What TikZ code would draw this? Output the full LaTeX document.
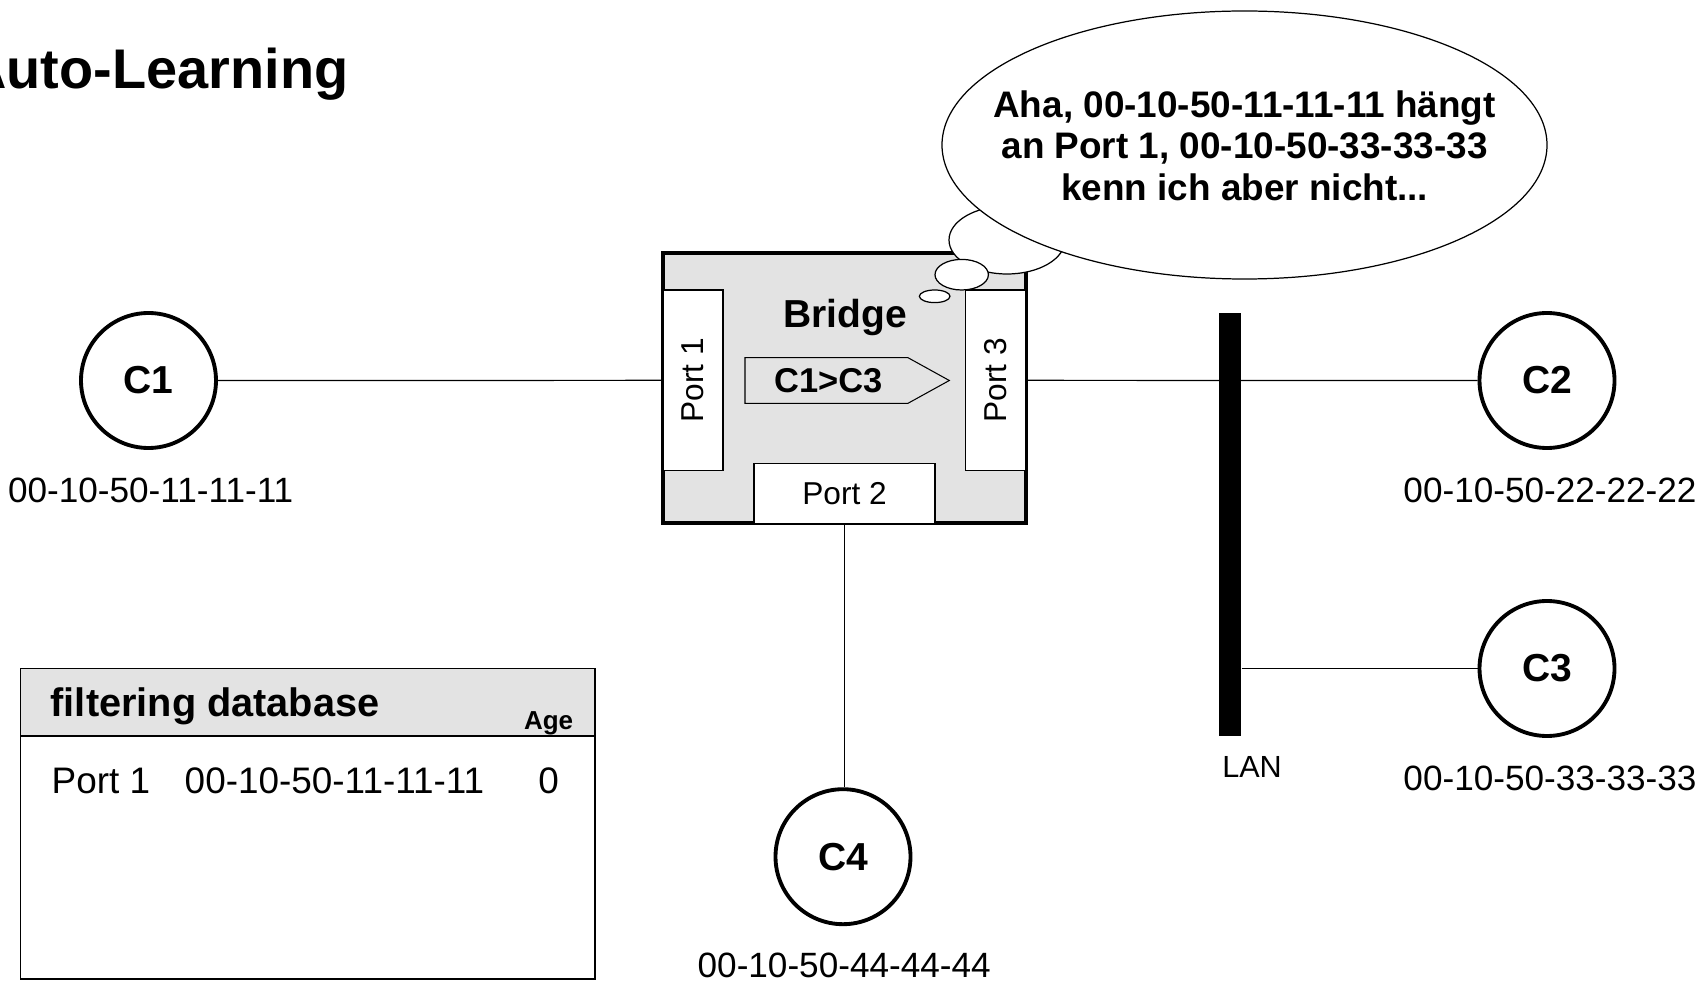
\documentclass[tikz,border=0pt]{standalone}
\usepackage{fontspec}
\setmainfont{Liberation Sans}
\usetikzlibrary{positioning}
\definecolor{Panel}{HTML}{E3E3E3}

\begin{document}
\begin{tikzpicture}[x=1cm,y=1cm,
    every node/.style={inner sep=0pt},
    station/.style={circle,draw,line width=1.1pt,minimum size=1.35cm,font=\fontsize{11.1}{13}\selectfont\bfseries},
    mac/.style={font=\fontsize{10}{12}\selectfont},
    portbox/.style={draw,line width=0.3pt,fill=white,font=\fontsize{9}{11}\selectfont},
    bubble/.style={draw,line width=0.35pt,fill=white},
    wire/.style={line width=0.35pt}]
  \useasboundingbox (0,0) rectangle (17,9.81);
  \node[anchor=base east,font=\fontsize{15.9}{18}\selectfont\bfseries] (title) at (3.49,8.927) {Auto-Learning};

  % stations and their addresses
  \node[station] (c1) at (1.485,6.005) {C1};
  \node[station] (c2) at (15.47,6.005) {C2};
  \node[station] (c3) at (15.47,3.125) {C3};
  \node[station] (c4) at (8.43,1.243) {C4};
  \node[mac] (m1) at (1.507,4.91) {00-10-50-11-11-11};
  \node[mac] (m2) at (15.50,4.91) {00-10-50-22-22-22};
  \node[mac] (m3) at (15.50,2.03) {00-10-50-33-33-33};
  \node[mac] (m4) at (8.442,0.16) {00-10-50-44-44-44};

  % bridge
  \node[draw,line width=1.1pt,fill=Panel,minimum width=3.627cm,minimum height=2.704cm] (bridge) at (8.4435,5.932) {};
  \node[portbox,minimum width=0.60cm,minimum height=1.807cm] (p1) at (6.93,6.0065) {\rotatebox{90}{Port 1}};
  \node[portbox,minimum width=0.60cm,minimum height=1.807cm] (p3) at (9.957,6.0065) {\rotatebox{90}{Port 3}};
  \node[portbox,minimum width=1.81cm,minimum height=0.607cm] (p2) at (8.445,4.8735) {Port 2};
  \node[anchor=base,font=\fontsize{11.1}{13}\selectfont\bfseries] (blabel) at (8.45,6.533) {Bridge};
  \draw[line width=0.3pt,fill=Panel] (7.45,6.233) -- (9.08,6.233) -- (9.493,6.005) -- (9.08,5.777) -- (7.45,5.777) -- cycle;
  \node[font=\fontsize{9.8}{12}\selectfont\bfseries] (frame) at (8.283,6.005) {C1>C3};

  \draw[wire] (c1) -- (p1);
  \draw[wire] (p3) -- (c2);
  \draw[wire] (p2) -- (p2 |- c4.north);

  % LAN segment
  \node[fill=black,minimum width=0.22cm,minimum height=4.23cm] (lan) at (12.30,4.565) {};
  \node[font=\fontsize{8.7}{10}\selectfont] (lanlabel) at (12.52,2.14) {LAN};
  \draw[wire] (lan.east |- c3) -- (c3);

  % thought bubble
  \draw[bubble] (10.07,7.41) ellipse [x radius=0.58, y radius=0.34];
  \draw[bubble] (12.445,8.36) ellipse [x radius=3.025, y radius=1.34];
  \draw[bubble] (9.617,7.063) ellipse [x radius=0.267, y radius=0.153];
  \draw[bubble] (9.347,6.847) ellipse [x radius=0.153, y radius=0.063];
  \node[align=center,font=\fontsize{10.5}{11.9}\selectfont\bfseries] (thought) at (12.446,8.352)
    {Aha, 00-10-50-11-11-11 hängt\\an Port 1, 00-10-50-33-33-33\\kenn ich aber nicht...};

  % filtering database
  \node[draw,line width=0.45pt,minimum width=5.743cm,minimum height=2.43cm] (dbbody) at (3.0785,1.235) {};
  \node[draw,line width=0.45pt,fill=Panel,minimum width=5.743cm,minimum height=0.677cm] (dbhead) at (3.0785,2.7885) {};
  \node[anchor=base west,font=\fontsize{11.3}{13}\selectfont\bfseries] (dbtitle) at (0.50,2.64) {filtering database};
  \node[anchor=base,font=\fontsize{7.4}{9}\selectfont\bfseries] (agehead) at (5.486,2.515) {Age};
  \node[anchor=base west,font=\fontsize{10.5}{12}\selectfont] (dbport) at (0.51,1.874) {Port 1};
  \node[anchor=base,font=\fontsize{10.5}{12}\selectfont] (dbmac) at (3.345,1.874) {00-10-50-11-11-11};
  \node[anchor=base,font=\fontsize{10.5}{12}\selectfont] (dbage) at (5.486,1.874) {0};
\end{tikzpicture}
\end{document}
